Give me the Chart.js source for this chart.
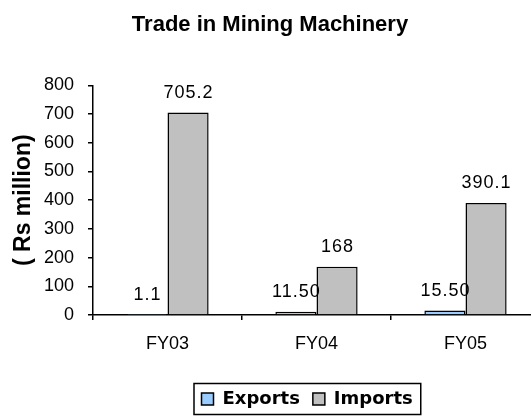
<!DOCTYPE html>
<html><head><meta charset="utf-8">
<script src="https://cdn.jsdelivr.net/npm/chart.js@4/dist/chart.umd.min.js"></script>
<style>html,body{margin:0;padding:0;overflow:hidden;background:#fff}</style>
</head><body>
<canvas id="c" width="540" height="417"></canvas>
<script>
const categories = ['FY03', 'FY04', 'FY05'];
const exportsValues = [1.1, 11.5, 15.5];
const importsValues = [705.2, 168, 390.1];
const exportsLabels = ['1.1', '11.50', '15.50'];
const importsLabels = ['705.2', '168', '390.1'];
const yMin = 0, yMax = 800, yStep = 100;
const seriesNames = ['Exports', 'Imports'];
const chartTitle = 'Trade in Mining Machinery';
const yAxisTitle = '( Rs million)';

const valueLabels = [exportsLabels, importsLabels];

const valueLabelPlugin = {
  id: 'valueLabelPlugin',
  afterDatasetsDraw(chart) {
    const ctx = chart.ctx;
    ctx.save();
    ctx.font = '18px "Liberation Sans"';
    try { ctx.letterSpacing = '1px'; } catch (e) {}
    ctx.fillStyle = '#000';
    ctx.textAlign = 'center';
    ctx.textBaseline = 'middle';
    chart.data.datasets.forEach((ds, i) => {
      const meta = chart.getDatasetMeta(i);
      meta.data.forEach((el, j) => {
        ctx.fillText(valueLabels[i][j], el.x + 0.5, el.y - 20);
      });
    });
    ctx.restore();
  }
};

const legendPlacePlugin = {
  id: 'legendPlacePlugin',
  afterUpdate(chart) {
    const lg = chart.legend;
    if (!lg || !lg.legendHitBoxes || !lg.legendHitBoxes.length) return;
    const hb = lg.legendHitBoxes;
    const dx = 201.5 - hb[0].left;
    const dy = (399 - hb[0].height / 2) - hb[0].top;
    lg.left += dx; lg.right += dx; lg.top += dy; lg.bottom += dy;
    hb.forEach(h => { h.left += dx; h.top += dy; });
  },
  afterDraw(chart) {
    const lg = chart.legend;
    if (!lg || !lg.legendHitBoxes || !lg.legendHitBoxes.length) return;
    const hb = lg.legendHitBoxes;
    const first = hb[0], last = hb[hb.length - 1];
    const ctx = chart.ctx;
    ctx.save();
    ctx.strokeStyle = '#000';
    ctx.lineWidth = 1.5;
    const l = first.left - 7.5, r = last.left + last.width + 8;
    const cy = first.top + first.height / 2;
    ctx.strokeRect(l, cy - 15.5, r - l, 31);
    ctx.restore();
  }
};

new Chart(document.getElementById('c'), {
  type: 'bar',
  data: {
    labels: categories,
    datasets: [
      { label: seriesNames[0], data: exportsValues, backgroundColor: '#99CCFF', borderColor: '#000', borderWidth: 1.5 },
      { label: seriesNames[1], data: importsValues, backgroundColor: '#C0C0C0', borderColor: '#000', borderWidth: 1.5 }
    ]
  },
  options: {
    responsive: false,
    animation: false,
    devicePixelRatio: 1,
    layout: { padding: { left: 0, right: 0, top: 0, bottom: 23 } },
    datasets: { bar: { categoryPercentage: 0.552, barPercentage: 1.0 } },
    plugins: {
      title: {
        display: true, text: chartTitle, color: '#000',
        font: { family: 'Liberation Sans', weight: 'bold', size: 22 },
        padding: { top: 12, bottom: 47 }
      },
      legend: {
        display: true, position: 'bottom', fullSize: false, align: 'center',
        labels: {
          color: '#000', boxWidth: 12, boxHeight: 12, padding: 13,
          font: { family: 'DejaVu Sans', weight: 'bold', size: 18 }
        }
      },
      tooltip: { enabled: false }
    },
    scales: {
      x: {
        grid: { display: true, drawOnChartArea: false, drawTicks: true, tickLength: 5, color: '#000', lineWidth: 1.5 },
        border: { display: true, color: '#000', width: 1.5 },
        ticks: { color: '#000', padding: 13, font: { family: 'Liberation Sans', size: 18 } },
        afterFit(scale) { scale.height = 38; }
      },
      y: {
        min: yMin, max: yMax,
        grid: { display: true, drawOnChartArea: false, drawTicks: true, tickLength: 5, color: '#000', lineWidth: 1.5 },
        border: { display: true, color: '#000', width: 1.5 },
        ticks: { color: '#000', stepSize: yStep, padding: 14, font: { family: 'Liberation Sans', size: 18 } },
        title: {
          display: true, text: yAxisTitle, color: '#000',
          font: { family: 'Liberation Sans', weight: 'bold', size: 23 },
          padding: { top: 10, bottom: 0 }
        },
        afterFit(scale) { scale.width = 93; }
      }
    }
  },
  plugins: [valueLabelPlugin, legendPlacePlugin]
});
</script>
</body></html>
